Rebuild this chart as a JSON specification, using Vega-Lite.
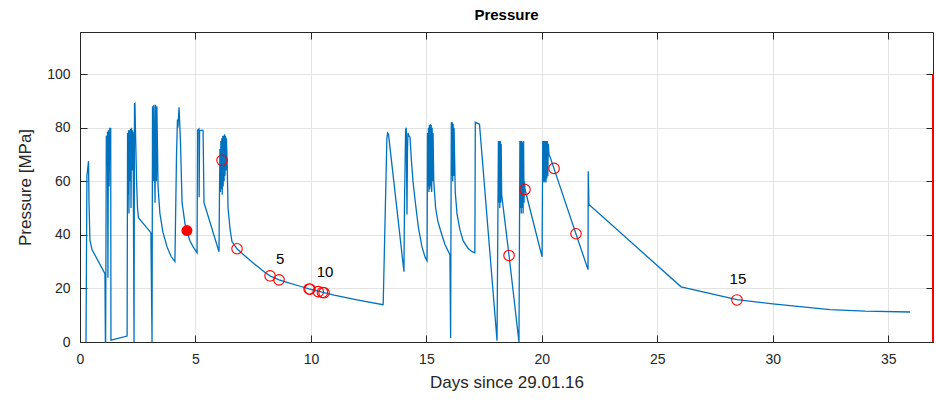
{
  "$schema": "https://vega.github.io/schema/vega-lite/v6.json",
  "autosize": {"type": "none"},
  "padding": {"left": 80, "top": 32, "right": 4, "bottom": 61},
  "width": 853,
  "height": 310,
  "background": "white",
  "config": {
    "font": "Liberation Sans",
    "view": {"stroke": null},
    "axis": {
      "domainColor": "#262626",
      "tickColor": "#262626",
      "labelColor": "#262626",
      "titleColor": "#262626",
      "labelFontSize": 14,
      "titleFontSize": 17,
      "titleFontWeight": "normal",
      "gridColor": "#e3e3e3",
      "gridWidth": 1,
      "tickSize": -7,
      "labelPadding": 17,
      "labelFlush": false
    },
    "title": {"fontSize": 15, "fontWeight": "bold", "color": "#000000", "offset": 9}
  },
  "title": {"text": "Pressure", "anchor": "middle"},
  "datasets": {
    "pressure": [
      {"t": 0.26, "p": 0}, {"t": 0.30, "p": 62}, {"t": 0.37, "p": 67.5}, {"t": 0.39, "p": 52}, {"t": 0.43, "p": 38}, {"t": 0.52, "p": 34.5}, {"t": 1.08, "p": 25.5}, {"t": 1.10, "p": 0},
      {"t": 1.11, "p": 0}, {"t": 1.14, "p": 77}, {"t": 1.17, "p": 66}, {"t": 1.19, "p": 78.5}, {"t": 1.21, "p": 24}, {"t": 1.23, "p": 79}, {"t": 1.26, "p": 58}, {"t": 1.29, "p": 80}, {"t": 1.31, "p": 68}, {"t": 1.33, "p": 80}, {"t": 1.34, "p": 0.7},
      {"t": 2.04, "p": 2.2}, {"t": 2.06, "p": 78}, {"t": 2.08, "p": 55}, {"t": 2.10, "p": 79}, {"t": 2.12, "p": 48}, {"t": 2.14, "p": 79}, {"t": 2.17, "p": 60}, {"t": 2.19, "p": 79.5}, {"t": 2.21, "p": 50}, {"t": 2.23, "p": 80}, {"t": 2.25, "p": 64}, {"t": 2.27, "p": 79}, {"t": 2.30, "p": 78}, {"t": 2.34, "p": 0},
      {"t": 2.36, "p": 88.8}, {"t": 2.38, "p": 89}, {"t": 2.40, "p": 80}, {"t": 2.45, "p": 60}, {"t": 2.49, "p": 50}, {"t": 2.53, "p": 46.4}, {"t": 3.07, "p": 40.8}, {"t": 3.12, "p": 0},
      {"t": 3.14, "p": 88}, {"t": 3.18, "p": 60}, {"t": 3.20, "p": 88.5}, {"t": 3.25, "p": 52}, {"t": 3.27, "p": 88.5}, {"t": 3.31, "p": 60}, {"t": 3.33, "p": 88},
      {"t": 3.38, "p": 58}, {"t": 3.46, "p": 48}, {"t": 3.59, "p": 41}, {"t": 3.77, "p": 35.5}, {"t": 3.94, "p": 32}, {"t": 4.11, "p": 30},
      {"t": 4.18, "p": 70}, {"t": 4.22, "p": 83}, {"t": 4.24, "p": 80}, {"t": 4.29, "p": 87.6}, {"t": 4.35, "p": 75}, {"t": 4.42, "p": 52}, {"t": 4.55, "p": 44}, {"t": 4.63, "p": 41.6}, {"t": 4.75, "p": 38}, {"t": 4.90, "p": 35.5}, {"t": 5.07, "p": 33.3},
      {"t": 5.09, "p": 79}, {"t": 5.15, "p": 79.5}, {"t": 5.16, "p": 54}, {"t": 5.18, "p": 79}, {"t": 5.33, "p": 79}, {"t": 5.37, "p": 52}, {"t": 6.02, "p": 33.7},
      {"t": 6.04, "p": 55}, {"t": 6.06, "p": 72}, {"t": 6.08, "p": 56}, {"t": 6.10, "p": 75}, {"t": 6.12, "p": 57}, {"t": 6.14, "p": 76}, {"t": 6.16, "p": 55}, {"t": 6.18, "p": 77}, {"t": 6.20, "p": 58}, {"t": 6.22, "p": 77}, {"t": 6.24, "p": 60}, {"t": 6.26, "p": 77.5}, {"t": 6.28, "p": 62}, {"t": 6.30, "p": 77}, {"t": 6.32, "p": 64}, {"t": 6.34, "p": 76}, {"t": 6.37, "p": 68},
      {"t": 6.41, "p": 50}, {"t": 6.50, "p": 42}, {"t": 6.58, "p": 37.5}, {"t": 6.80, "p": 34.8}, {"t": 7.00, "p": 33.2}, {"t": 7.50, "p": 29.5}, {"t": 8.00, "p": 26.0}, {"t": 8.23, "p": 24.7}, {"t": 8.62, "p": 23.2}, {"t": 9.00, "p": 22.2}, {"t": 9.50, "p": 20.9}, {"t": 9.92, "p": 19.8}, {"t": 10.57, "p": 18.4}, {"t": 11.00, "p": 17.5}, {"t": 12.00, "p": 15.7}, {"t": 13.12, "p": 13.9},
      {"t": 13.13, "p": 14}, {"t": 13.29, "p": 76}, {"t": 13.32, "p": 78}, {"t": 13.36, "p": 77.5}, {"t": 14.03, "p": 26.2},
      {"t": 14.05, "p": 50}, {"t": 14.10, "p": 79}, {"t": 14.13, "p": 80}, {"t": 14.14, "p": 68}, {"t": 14.16, "p": 47.6}, {"t": 14.18, "p": 70}, {"t": 14.20, "p": 78}, {"t": 14.24, "p": 77}, {"t": 14.29, "p": 76.5},
      {"t": 14.35, "p": 68}, {"t": 14.42, "p": 60}, {"t": 14.51, "p": 53}, {"t": 14.65, "p": 43}, {"t": 14.81, "p": 35.5}, {"t": 14.95, "p": 31.5}, {"t": 15.03, "p": 30.3},
      {"t": 15.05, "p": 78}, {"t": 15.07, "p": 58}, {"t": 15.09, "p": 80}, {"t": 15.11, "p": 56}, {"t": 15.13, "p": 81}, {"t": 15.15, "p": 57}, {"t": 15.17, "p": 81.3}, {"t": 15.19, "p": 58}, {"t": 15.21, "p": 81}, {"t": 15.23, "p": 56}, {"t": 15.25, "p": 80}, {"t": 15.27, "p": 60}, {"t": 15.29, "p": 78},
      {"t": 15.32, "p": 60}, {"t": 15.40, "p": 50}, {"t": 15.50, "p": 45}, {"t": 15.60, "p": 42}, {"t": 15.80, "p": 36.5}, {"t": 16.02, "p": 32.6}, {"t": 16.05, "p": 1.5},
      {"t": 16.08, "p": 82}, {"t": 16.10, "p": 62}, {"t": 16.12, "p": 82}, {"t": 16.14, "p": 60}, {"t": 16.16, "p": 81.5}, {"t": 16.18, "p": 62}, {"t": 16.20, "p": 80},
      {"t": 16.25, "p": 56}, {"t": 16.33, "p": 47.6}, {"t": 16.45, "p": 42}, {"t": 16.59, "p": 37.8}, {"t": 16.80, "p": 35}, {"t": 16.98, "p": 33.7}, {"t": 17.10, "p": 33.3},
      {"t": 17.12, "p": 82}, {"t": 17.30, "p": 81.3}, {"t": 18.06, "p": 0.5},
      {"t": 18.12, "p": 75}, {"t": 18.14, "p": 52}, {"t": 18.16, "p": 75}, {"t": 18.18, "p": 50}, {"t": 18.20, "p": 75}, {"t": 18.22, "p": 52}, {"t": 18.24, "p": 74}, {"t": 18.26, "p": 55},
      {"t": 18.58, "p": 32.3}, {"t": 19.01, "p": 0},
      {"t": 19.05, "p": 75}, {"t": 19.07, "p": 50}, {"t": 19.09, "p": 75}, {"t": 19.11, "p": 48}, {"t": 19.13, "p": 75}, {"t": 19.15, "p": 50}, {"t": 19.17, "p": 74.5}, {"t": 19.19, "p": 48}, {"t": 19.21, "p": 75}, {"t": 19.23, "p": 52}, {"t": 19.25, "p": 60},
      {"t": 19.27, "p": 57}, {"t": 20.01, "p": 31.8},
      {"t": 20.04, "p": 75}, {"t": 20.06, "p": 60}, {"t": 20.08, "p": 75}, {"t": 20.10, "p": 59.5}, {"t": 20.12, "p": 75}, {"t": 20.14, "p": 60}, {"t": 20.16, "p": 75}, {"t": 20.18, "p": 59.5}, {"t": 20.20, "p": 75}, {"t": 20.22, "p": 61}, {"t": 20.24, "p": 75}, {"t": 20.26, "p": 62}, {"t": 20.28, "p": 74}, {"t": 20.31, "p": 70},
      {"t": 20.36, "p": 69}, {"t": 22.00, "p": 27}, {"t": 22.01, "p": 63.7}, {"t": 22.04, "p": 51.3}, {"t": 26.03, "p": 20.6}, {"t": 28.45, "p": 15.8}, {"t": 30.00, "p": 14.2}, {"t": 32.48, "p": 12.1}, {"t": 34.00, "p": 11.5}, {"t": 35.95, "p": 11.2}
    ],
    "samples": [
      {"n": 1, "t": 4.63, "p": 41.6, "kind": "current"},
      {"n": 2, "t": 6.15, "p": 67.8, "kind": "sample"},
      {"n": 3, "t": 6.80, "p": 34.8, "kind": "sample"},
      {"n": 4, "t": 8.23, "p": 24.7, "kind": "sample"},
      {"n": 5, "t": 8.62, "p": 23.2, "kind": "sample"},
      {"n": 6, "t": 9.92, "p": 19.8, "kind": "sample"},
      {"n": 7, "t": 9.96, "p": 19.7, "kind": "sample"},
      {"n": 8, "t": 10.32, "p": 18.8, "kind": "sample"},
      {"n": 9, "t": 10.50, "p": 18.5, "kind": "sample"},
      {"n": 10, "t": 10.57, "p": 18.4, "kind": "sample"},
      {"n": 11, "t": 18.58, "p": 32.3, "kind": "sample"},
      {"n": 12, "t": 19.27, "p": 56.9, "kind": "sample"},
      {"n": 13, "t": 20.53, "p": 64.8, "kind": "sample"},
      {"n": 14, "t": 21.48, "p": 40.4, "kind": "sample"},
      {"n": 15, "t": 28.45, "p": 15.7, "kind": "sample"}
    ],
    "now": [{"t": 36.94, "p0": 0, "p1": 100}]
  },
  "resolve": {"axis": {"x": "independent", "y": "independent"}},
  "layer": [
    {
      "data": {"name": "pressure"},
      "mark": {"type": "line", "color": "#0072BD", "strokeWidth": 1.3, "interpolate": "linear"},
      "encoding": {
        "x": {"field": "t", "type": "quantitative", "scale": {"domain": [0, 36.94], "nice": false, "zero": false},
              "axis": {"orient": "bottom", "values": [0, 5, 10, 15, 20, 25, 30, 35], "title": "Days since 29.01.16", "grid": true, "titlePadding": 8}},
        "y": {"field": "p", "type": "quantitative", "scale": {"domain": [0, 115.7], "nice": false, "zero": false},
              "axis": {"orient": "left", "values": [0, 20, 40, 60, 80, 100], "title": "Pressure [MPa]", "grid": true, "titlePadding": 12}},
        "order": {"field": "t", "type": "quantitative"}
      }
    },
    {
      "data": {"name": "now"},
      "mark": {"type": "rule", "color": "#ff0000", "strokeWidth": 2},
      "encoding": {
        "x": {"field": "t", "type": "quantitative", "scale": {"domain": [0, 36.94], "nice": false, "zero": false}, "axis": null},
        "y": {"field": "p0", "type": "quantitative", "scale": {"domain": [0, 115.7], "nice": false, "zero": false}, "axis": null},
        "y2": {"field": "p1"}
      }
    },
    {
      "data": {"name": "samples"},
      "transform": [{"filter": "datum.kind === 'sample'"}],
      "mark": {"type": "point", "shape": "circle", "filled": false, "stroke": "#ff0000", "strokeWidth": 1.1, "size": 110, "opacity": 1},
      "encoding": {
        "x": {"field": "t", "type": "quantitative", "scale": {"domain": [0, 36.94], "nice": false, "zero": false}, "axis": null},
        "y": {"field": "p", "type": "quantitative", "scale": {"domain": [0, 115.7], "nice": false, "zero": false}, "axis": null}
      }
    },
    {
      "data": {"name": "samples"},
      "transform": [{"filter": "datum.kind === 'current'"}],
      "mark": {"type": "point", "shape": "circle", "filled": true, "color": "#ff0000", "size": 120, "opacity": 1},
      "encoding": {
        "x": {"field": "t", "type": "quantitative", "scale": {"domain": [0, 36.94], "nice": false, "zero": false}, "axis": null},
        "y": {"field": "p", "type": "quantitative", "scale": {"domain": [0, 115.7], "nice": false, "zero": false}, "axis": null}
      }
    },
    {
      "data": {"name": "samples"},
      "transform": [{"filter": "datum.n % 5 === 0"}],
      "mark": {"type": "text", "fontSize": 15, "color": "#000000", "dy": -21, "dx": 1},
      "encoding": {
        "x": {"field": "t", "type": "quantitative", "scale": {"domain": [0, 36.94], "nice": false, "zero": false}, "axis": null},
        "y": {"field": "p", "type": "quantitative", "scale": {"domain": [0, 115.7], "nice": false, "zero": false}, "axis": null},
        "text": {"field": "n", "type": "quantitative"}
      }
    },
    {
      "data": {"name": "now"},
      "mark": {"type": "point", "opacity": 0},
      "encoding": {
        "x": {"field": "t", "type": "quantitative", "scale": {"domain": [0, 36.94], "nice": false, "zero": false},
              "axis": {"orient": "top", "values": [0, 5, 10, 15, 20, 25, 30, 35], "labels": false, "grid": false, "title": null}},
        "y": {"field": "p1", "type": "quantitative", "scale": {"domain": [0, 115.7], "nice": false, "zero": false},
              "axis": {"orient": "right", "values": [0, 20, 40, 60, 80, 100], "labels": false, "grid": false, "title": null}}
      }
    }
  ]
}
